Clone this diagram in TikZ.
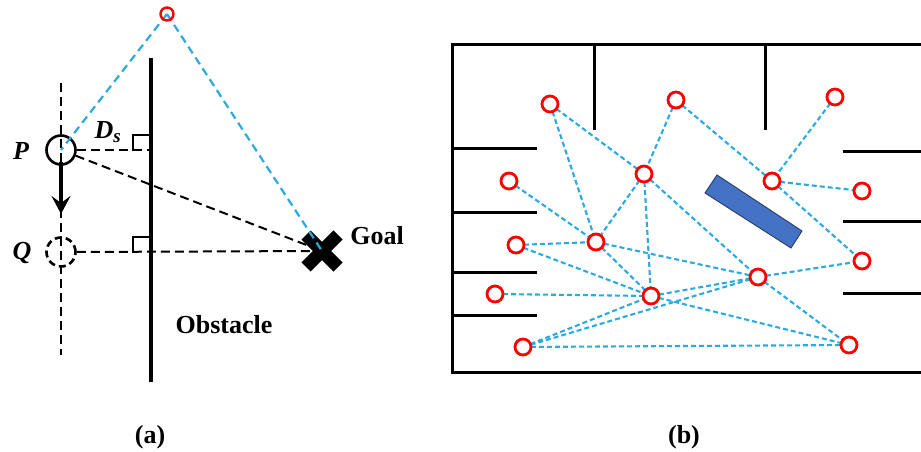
\documentclass[tikz,border=0pt]{standalone}
\usepackage{fontspec}
\setmainfont{Liberation Serif}
\usetikzlibrary{arrows.meta,calc}
\definecolor{skyb}{RGB}{41,171,226}
\definecolor{boxb}{RGB}{68,114,196}
\definecolor{boxe}{RGB}{40,60,100}
\tikzset{
  lbl/.style={font=\fontsize{26}{30}\selectfont\bfseries, inner sep=0pt},
  ilbl/.style={font=\fontsize{26}{30}\selectfont\bfseries\itshape, inner sep=0pt},
  wp/.style={circle, draw=red, line width=2.8pt, minimum size=16pt, inner sep=0pt, fill=white},
  bd/.style={skyb, line width=2.1pt, dash pattern=on 5pt off 3pt},
  kd/.style={black, line width=2pt, dash pattern=on 9pt off 5pt},
  wall/.style={black, line width=3pt},
  robot/.style={circle, draw=black, line width=2.6pt, minimum size=29pt, inner sep=0pt}
}
\begin{document}
\begin{tikzpicture}[x=1pt,y=-1pt]
\useasboundingbox (0,0) rectangle (921,452);
% ---------- panel (a) ----------
\coordinate (vt) at (61,83);
\coordinate (vb) at (61,355);
\draw[kd] (vt) -- (vb);
\coordinate (ot) at (151,58);
\coordinate (ob) at (151,382);
\draw[black, line width=4.5pt] (ot) -- (ob);
\node[robot] (P) at (61,150) {};
\node[robot, dash pattern=on 7pt off 4pt] (Q) at (61,252) {};
\coordinate (W) at (167,14);
\coordinate (G) at (322,251);
\coordinate (PF) at (151,150);
\draw[kd] (P.east) -- (PF);
\draw[kd] (P) -- (G);
\draw[kd] (Q.east) -- (G);
\draw[black, line width=2.2pt] (133,151) -- (133,135) -- (151,135);
\draw[black, line width=2.2pt] (133,253) -- (133,237) -- (151,237);
\draw[line width=3.2pt, -{Stealth[length=18pt,width=19pt,inset=7pt]}] (61,162) -- (61,214);
\draw[black, line width=13pt] ($(G)+(-16,-16)$) -- ($(G)+(16,16)$);
\draw[black, line width=13pt] ($(G)+(-16,16)$) -- ($(G)+(16,-16)$);
\draw[bd, dash pattern=on 8pt off 5pt, line width=2.2pt] (W) -- (P.center);
\draw[bd, dash pattern=on 8pt off 5pt, line width=2.2pt] (W) -- (G);
\node[wp, minimum size=13pt, line width=2.4pt, fill=none] (Wn) at (W) {};
\node[ilbl] (Pl) at (21,151) {P};
\node[ilbl] (Ql) at (22,253) {Q};
\node[ilbl] (Dl) at (108,132) {D\textsubscript{\fontsize{19}{20}\selectfont s}};
\node[lbl] (Gl) at (377,236) {Goal};
\node[lbl] (Ol) at (224,325) {Obstacle};
\node[lbl] (la) at (150,437) {(a)};
\node[lbl] (lb) at (684,437) {(b)};
% ---------- panel (b) ----------
\draw[wall] (921,45) -- (452,45) -- (452,372) -- (921,372);
\draw[wall] (594,45) -- (594,130);
\draw[wall] (765,45) -- (765,130);
\foreach \yy in {148,212,272,315} \draw[wall] (452,\yy) -- (537,\yy);
\foreach \yy in {151,221,293} \draw[wall] (843,\yy) -- (921,\yy);
\draw[fill=boxb, draw=boxe, line width=0.9pt] (705,193) -- (717,175) -- (802,231) -- (791,248) -- cycle;
\coordinate (b1) at (550,104);
\coordinate (b2) at (676,100);
\coordinate (b3) at (835,97);
\coordinate (b4) at (644,174);
\coordinate (b5) at (772,181);
\coordinate (b6) at (509,181);
\coordinate (b7) at (862,191);
\coordinate (b8) at (596,242);
\coordinate (b9) at (516,245);
\coordinate (b10) at (862,261);
\coordinate (b11) at (758,277);
\coordinate (b12) at (495,294);
\coordinate (b13) at (651,296);
\coordinate (b14) at (523,347);
\coordinate (b15) at (849,345);
\foreach \a/\b in {b1/b4,b1/b8,b2/b4,b2/b5,b3/b5,b5/b7,b5/b10,b4/b8,b4/b13,b4/b11,b6/b8,b9/b8,b9/b13,b8/b11,b8/b13,b12/b13,b13/b11,b11/b10,b13/b15,b11/b15,b14/b13,b14/b11,b14/b15}
  \draw[bd] (\a) -- (\b);
\foreach \n in {b1,b2,b3,b4,b5,b6,b7,b8,b9,b10,b11,b12,b13,b14,b15}
  \node[wp] (\n n) at (\n) {};
\end{tikzpicture}
\end{document}
